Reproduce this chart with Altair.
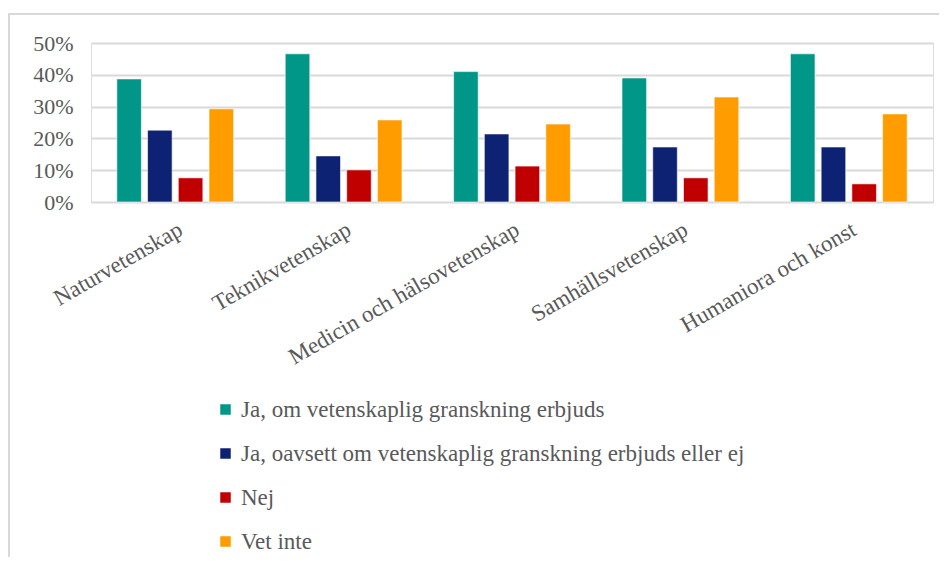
import altair as alt
import pandas as pd

categories = ["Naturvetenskap", "Teknikvetenskap", "Medicin och hälsovetenskap",
              "Samhällsvetenskap", "Humaniora och konst"]
series = ["Ja, om vetenskaplig granskning erbjuds",
          "Ja, oavsett om vetenskaplig granskning erbjuds eller ej",
          "Nej", "Vet inte"]
ja_om = [0.387, 0.466, 0.410, 0.390, 0.466]
ja_oavsett = [0.226, 0.145, 0.214, 0.173, 0.173]
nej = [0.076, 0.101, 0.113, 0.076, 0.057]
vet_inte = [0.293, 0.258, 0.245, 0.330, 0.277]
colors = ["#009688", "#0d2273", "#c00000", "#ff9c00"]
y_ticks = [0, 0.1, 0.2, 0.3, 0.4, 0.5]

rows = []
for s, vals in zip(series, [ja_om, ja_oavsett, nej, vet_inte]):
    for c, v in zip(categories, vals):
        rows.append({"Kategori": c, "Svar": s, "Andel": v})
df = pd.DataFrame(rows)

FONT = "'Liberation Serif', 'Times New Roman', Times, serif"
TXT = "#595959"

bars = alt.Chart(df).mark_bar(stroke="white", strokeWidth=1, strokeOpacity=0.6).encode(
    x=alt.X("Kategori:N", sort=categories, title=None,
            scale=alt.Scale(paddingInner=0, paddingOuter=0),
            axis=alt.Axis(labelAngle=-30, labelAlign="right", labelBaseline="top",
                          labelFont=FONT, labelFontSize=23, labelColor=TXT,
                          labelPadding=16, ticks=False, domain=False, labelLimit=0)),
    xOffset=alt.XOffset("Svar:N", sort=series,
                        scale=alt.Scale(paddingInner=0.2, paddingOuter=0.84)),
    y=alt.Y("Andel:Q", title=None, scale=alt.Scale(domain=[0, 0.5]),
            axis=alt.Axis(format=".0%", values=y_ticks, labelFont=FONT,
                          labelFontSize=22, labelColor=TXT, labelPadding=18,
                          ticks=False, domain=False, grid=True,
                          gridColor="#d9d9d9", gridWidth=2)),
    color=alt.Color("Svar:N", sort=series,
                    scale=alt.Scale(domain=series, range=colors),
                    legend=alt.Legend(orient="none", legendX=123, legendY=355,
                                      direction="vertical", title=None,
                                      symbolType="square", symbolSize=110,
                                      symbolStrokeWidth=0, labelFont=FONT,
                                      labelFontSize=23, labelColor=TXT,
                                      labelOffset=4, rowPadding=20, labelLimit=0)),
)

frame_top = alt.Chart(alt.Data(values=[{}])).mark_rule(color="#d9d9d9", strokeWidth=2).encode(
    x=alt.value(-83), x2=alt.value(860), y=alt.value(-29))
frame_left = alt.Chart(alt.Data(values=[{}])).mark_rule(color="#d9d9d9", strokeWidth=2).encode(
    x=alt.value(-82), y=alt.value(-30), y2=alt.value(520))

chart = alt.layer(bars, frame_top, frame_left).properties(
    width=842, height=159,
    autosize=alt.AutoSizeParams(type="none"),
    padding={"left": 83, "top": 35, "right": 6, "bottom": 355},
).configure_view(stroke=None).configure(background="white", font=FONT)

chart.save("out.html", embed_options={"renderer": "svg", "actions": False})
